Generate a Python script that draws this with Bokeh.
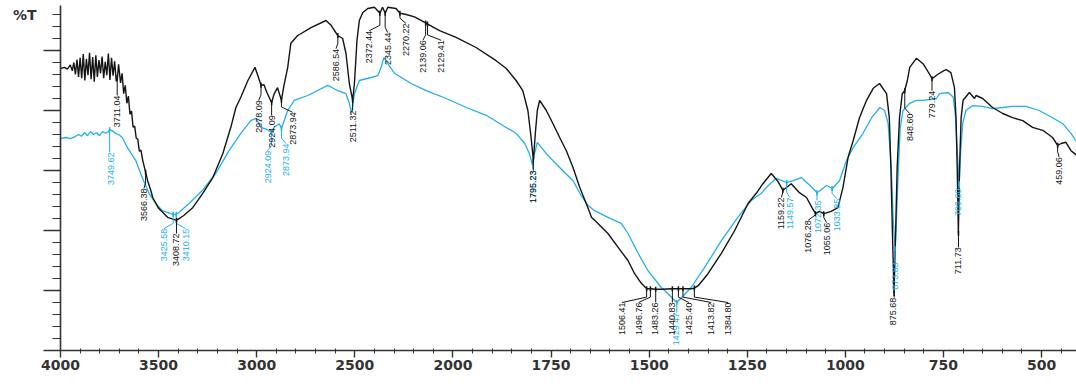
import numpy as np
from bokeh.plotting import figure
from bokeh.models import (ColumnDataSource, Range1d, FixedTicker, CustomJSTransform,
                          Label, CustomJSTickFormatter)
from bokeh.transform import transform
from bokeh.embed import file_html
from bokeh.resources import INLINE
from bokeh.core.properties import value

# ---------------- data: (wavenumber 1/cm, %T) ----------------
black_spectrum = [
    (4000, 47.0), (3980, 47.2), (3965, 46.9), (3950, 47.6), (3940, 46.6), (3932, 48.0), (3924, 46.0),
    (3916, 48.5), (3908, 45.6), (3900, 48.8), (3892, 45.4), (3884, 49.4), (3876, 45.0), (3868, 48.6),
    (3860, 45.9), (3852, 49.6), (3844, 45.2), (3836, 48.9), (3828, 44.8), (3820, 49.2), (3812, 45.6),
    (3804, 48.4), (3796, 46.2), (3788, 49.0), (3780, 45.4), (3772, 48.1), (3764, 45.9), (3756, 49.5),
    (3748, 45.1), (3740, 48.8), (3732, 45.8), (3724, 48.2), (3716, 44.9), (3711, 45.0), (3704, 47.7),
    (3694, 44.6), (3686, 46.2), (3678, 42.8), (3670, 44.2), (3662, 41.2), (3654, 42.4), (3646, 39.4),
    (3638, 39.9), (3630, 37.2), (3622, 37.4), (3614, 35.4), (3606, 35.2), (3598, 33.2), (3590, 33.4),
    (3581, 31.7), (3566, 29.7), (3556, 28.3), (3540, 26.7), (3530, 25.5), (3500, 23.7), (3454, 22.2),
    (3409, 21.7), (3372, 22.5), (3326, 23.8), (3275, 26.2), (3224, 28.8), (3173, 32.8), (3132, 37.2),
    (3106, 40.5), (3081, 42.2), (3045, 45.0), (3009, 47.2), (2994, 45.8), (2978, 44.2), (2963, 44.3),
    (2948, 43.0), (2924, 41.3), (2912, 42.7), (2894, 43.8), (2874, 41.7), (2861, 44.2), (2842, 47.2),
    (2826, 51.2), (2791, 52.5), (2723, 53.8), (2647, 55.0), (2621, 54.2), (2587, 52.5), (2562, 52.0),
    (2545, 49.5), (2528, 44.5), (2511, 41.7), (2502, 44.5), (2489, 51.7), (2477, 55.0), (2460, 56.3),
    (2434, 57.0), (2400, 57.2), (2372, 56.2), (2359, 57.2), (2345, 56.2), (2332, 57.2), (2290, 57.0),
    (2270, 56.2), (2238, 56.0), (2196, 55.6), (2139, 54.6), (2129, 54.4), (2068, 53.3), (1992, 52.2),
    (1941, 50.5), (1890, 48.3), (1864, 47.0), (1839, 45.0), (1822, 43.3), (1809, 40.0), (1802, 36.2),
    (1795, 31.7), (1790, 36.2), (1785, 40.0), (1779, 41.7), (1762, 40.0), (1745, 37.8), (1728, 35.5),
    (1711, 33.3), (1694, 30.5), (1677, 27.2), (1656, 23.8), (1647, 22.2), (1631, 21.2), (1605, 19.5),
    (1579, 17.2), (1554, 15.0), (1537, 12.8), (1520, 11.2), (1506, 10.3), (1497, 10.3), (1483, 10.2),
    (1469, 10.2), (1441, 10.3), (1425, 10.3), (1414, 10.3), (1393, 10.3), (1385, 10.4), (1375, 10.8),
    (1350, 12.8), (1316, 16.2), (1282, 20.0), (1248, 24.5), (1227, 26.2), (1210, 27.8), (1189, 29.5),
    (1173, 28.3), (1159, 26.7), (1138, 27.8), (1117, 26.3), (1099, 25.5), (1085, 23.8), (1076, 22.8),
    (1066, 23.2), (1055, 22.8), (1036, 23.2), (1019, 23.8), (1006, 27.2), (993, 32.2), (980, 35.0),
    (964, 38.8), (946, 41.7), (929, 43.7), (913, 44.5), (895, 42.8), (888, 38.8), (884, 30.5),
    (880, 19.5), (876, 9.5), (872, 19.5), (868, 30.5), (862, 38.8), (855, 42.8), (849, 43.3),
    (842, 45.0), (836, 47.2), (819, 48.7), (802, 47.8), (785, 46.0), (779, 45.3), (765, 46.0),
    (750, 46.6), (743, 46.8), (731, 46.3), (722, 43.8), (718, 38.8), (715, 30.5), (712, 19.5),
    (709, 30.5), (705, 38.8), (700, 41.7), (684, 43.0), (671, 42.0), (667, 42.5), (650, 42.0),
    (625, 40.5), (599, 39.5), (574, 38.8), (548, 38.3), (523, 37.2), (497, 36.7), (472, 35.5),
    (459, 34.2), (450, 34.5), (438, 34.7), (425, 33.3), (410, 32.5),
]

blue_spectrum = [
    (4000, 35.3), (3974, 35.5), (3949, 35.3), (3923, 35.7), (3908, 36.0), (3893, 35.7), (3877, 36.3),
    (3862, 35.8), (3847, 36.5), (3832, 36.0), (3816, 36.3), (3801, 35.8), (3786, 36.5), (3770, 36.2),
    (3755, 36.5), (3750, 36.8), (3736, 36.6), (3719, 36.2), (3704, 36.0), (3685, 35.5), (3659, 33.8),
    (3617, 31.7), (3583, 28.8), (3549, 26.2), (3515, 24.5), (3481, 23.3), (3438, 22.8), (3425, 22.7),
    (3410, 22.7), (3396, 23.0), (3345, 24.5), (3276, 26.7), (3209, 29.5), (3141, 33.3), (3081, 36.2),
    (3030, 38.3), (3004, 38.7), (2979, 37.2), (2945, 36.8), (2924, 36.3), (2911, 37.2), (2885, 37.8),
    (2874, 37.0), (2842, 40.0), (2809, 41.7), (2740, 42.5), (2638, 44.2), (2587, 43.3), (2545, 42.8),
    (2528, 41.2), (2516, 39.5), (2502, 42.8), (2477, 45.0), (2417, 45.5), (2383, 45.8), (2366, 47.2),
    (2352, 48.8), (2332, 47.8), (2298, 46.2), (2213, 44.5), (2136, 43.3), (2034, 42.0), (1966, 40.5),
    (1915, 39.2), (1873, 37.5), (1839, 36.2), (1817, 34.5), (1805, 32.8), (1797, 30.8), (1792, 32.8),
    (1785, 34.7), (1762, 32.8), (1728, 30.5), (1694, 28.3), (1673, 25.8), (1656, 24.2), (1639, 23.3),
    (1605, 22.2), (1571, 21.2), (1554, 19.5), (1528, 16.2), (1503, 13.3), (1469, 10.5), (1448, 9.2),
    (1430, 8.0), (1418, 8.8), (1393, 10.5), (1359, 13.8), (1316, 18.3), (1274, 22.2), (1240, 25.0),
    (1214, 26.2), (1201, 27.2), (1176, 28.7), (1150, 28.0), (1133, 28.3), (1112, 28.8), (1090, 27.5),
    (1072, 26.3), (1048, 27.5), (1033, 27.0), (1015, 28.3), (997, 31.7), (980, 33.8), (955, 36.2),
    (933, 38.8), (912, 40.5), (900, 40.0), (891, 37.8), (883, 30.5), (878, 21.7), (873, 17.0),
    (868, 25.0), (864, 31.7), (860, 37.2), (853, 40.0), (836, 41.2), (819, 41.7), (802, 41.7),
    (768, 42.0), (760, 42.8), (738, 43.0), (725, 42.2), (719, 38.8), (715, 33.3), (710, 27.8),
    (706, 33.3), (701, 37.8), (693, 40.0), (676, 40.8), (650, 40.7), (625, 40.3), (599, 40.5),
    (574, 40.7), (540, 40.7), (506, 40.0), (472, 38.8), (446, 37.8), (425, 36.2), (410, 34.7),
]

# peak labels: text (= wavenumber) and %T of the marked point
black_peak_text = ["3711.04", "3566.38", "3408.72", "2978.09", "2924.09", "2873.94", "2586.54",
                   "2511.32", "2372.44", "2345.44", "2270.22", "2139.06", "2129.41", "1795.23",
                   "1506.41", "1496.76", "1483.26", "1440.83", "1425.40", "1413.82", "1384.80",
                   "1159.22", "1076.28", "1055.06", "875.68", "848.60", "779.24", "711.73", "459.06"]
black_peak_T = [45.5, 29.7, 21.7, 44.2, 41.3, 41.7, 52.5, 41.7, 56.2, 56.2, 56.2, 54.6, 54.4, 31.7,
                10.3, 10.3, 10.2, 10.3, 10.3, 10.3, 10.4, 26.7, 22.8, 22.8, 9.5, 43.3, 45.3, 19.5, 34.2]

blue_peak_text = ["3749.62", "3425.58", "3410.15", "2924.09", "2873.94", "1795.23", "1429.47",
                  "1149.57", "1072.35", "1033.85", "873.83", "709.60"]
blue_peak_T = [36.8, 22.7, 22.7, 36.3, 37.0, 30.8, 8.0, 28.0, 26.3, 27.0, 17.0, 27.8]

tick_labels = [4000, 3500, 3000, 2500, 2000, 1750, 1500, 1250, 1000, 750, 500]

# ---------------- layout of the labels (where the text sits) ----------------
black_label_x = [3711, 3575, 3409, 2990, 2924, 2817, 2596, 2511, 2426, 2333, 2239, 2153, 2060, 1795,
                 1569, 1527, 1484, 1442, 1399, 1342, 1299, 1163, 1095, 1048, 878, 836, 780, 714, 455]
black_label_top = [42.5, 27.0, 19.5, 41.7, 39.2, 39.7, 50.3, 40.0, 53.3, 53.0, 54.5, 51.7, 51.7, 30.0,
                   8.0, 8.0, 8.0, 8.0, 8.0, 8.0, 8.0, 25.5, 21.7, 21.3, 8.8, 39.5, 43.3, 17.2, 32.2]
blue_label_x = [3745, 3473, 3362, 2945, 2851, 1795, 1431, 1142, 1070, 1022, 873, 712]
blue_label_top = [33.0, 20.3, 20.3, 33.3, 34.5, 30.0, 6.3, 25.5, 25.0, 25.3, 14.7, 27.0]

BLACK = "#141414"
BLUE = "#22b1ea"
LABEL_FONT = "Liberation Sans"

# split-scale wavenumber axis (x2 expansion below 2000 1/cm)
split = CustomJSTransform(
    func="return x >= 2000 ? 2000 + (x - 2000) / 2 : x;",
    v_func="""
        const out = new Float64Array(xs.length);
        for (let i = 0; i < xs.length; i++) {
            const x = xs[i];
            out[i] = x >= 2000 ? 2000 + (x - 2000) / 2 : x;
        }
        return out;""")


def axis_pos(w):
    return 2000 + (w - 2000) / 2 if w >= 2000 else w


p = figure(width=1076, height=387, output_backend="svg", toolbar_location=None,
           x_range=Range1d(3000, 411), y_range=Range1d(0, 57.5),
           min_border_left=60, min_border_right=0, min_border_top=5, min_border_bottom=37)
p.outline_line_color = None
p.xgrid.visible = False
p.ygrid.visible = False
p.background_fill_color = "white"

bw, bt = zip(*black_spectrum)
uw, ut = zip(*blue_spectrum)
src_b = ColumnDataSource(dict(w=list(bw), t=list(bt)))
src_u = ColumnDataSource(dict(w=list(uw), t=list(ut)))

p.line(x=transform("w", split), y="t", source=src_u, line_color=BLUE, line_width=1.3)
p.line(x=transform("w", split), y="t", source=src_b, line_color=BLACK, line_width=1.4)


def add_labels(texts, peakT, lx, top, color):
    pw = [float(s) for s in texts]
    x0, y0, x1, y1 = [], [], [], []
    for w, t, x, tp in zip(pw, peakT, lx, top):
        bend = tp + 0.9
        if abs(axis_pos(w) - axis_pos(x)) < 3:
            x0 += [w]; y0 += [t]; x1 += [w]; y1 += [tp]
        else:
            x0 += [w, w]; y0 += [t, bend]; x1 += [w, x]; y1 += [bend, tp]
    seg = ColumnDataSource(dict(x0=x0, y0=y0, x1=x1, y1=y1))
    p.segment(x0=transform("x0", split), y0="y0", x1=transform("x1", split), y1="y1",
              source=seg, line_color=color, line_width=1)
    mk = ColumnDataSource(dict(w=pw, t=peakT))
    p.scatter(x=transform("w", split), y="t", source=mk, marker="dash", angle=np.pi / 2,
              size=5, line_color=color, line_width=1.5)
    txt = ColumnDataSource(dict(x=lx, y=top, s=texts))
    p.text(x=transform("x", split), y="y", text="s", source=txt, angle=np.pi / 2,
           text_align="right", text_baseline="middle", text_font=value(LABEL_FONT),
           text_font_size="9px", text_color=color)


add_labels(blue_peak_text, blue_peak_T, blue_label_x, blue_label_top, BLUE)
add_labels(black_peak_text, black_peak_T, black_label_x, black_label_top, BLACK)

# axes
tick_pos = [axis_pos(v) for v in tick_labels]
minor = []
for a, b in zip(tick_pos[:-1], tick_pos[1:]):
    minor += list(np.linspace(a, b, 6)[1:-1])
minor += [tick_pos[-1] - 50]
p.xaxis.ticker = FixedTicker(ticks=tick_pos, minor_ticks=minor)
p.xaxis.major_label_overrides = {pos: str(v) for pos, v in zip(tick_pos, tick_labels)}
p.xaxis.axis_line_color = "#333333"
p.xaxis.axis_line_width = 1.6
p.xaxis.major_tick_line_color = "#333333"
p.xaxis.major_tick_line_width = 1.4
p.xaxis.major_tick_out = 7
p.xaxis.major_tick_in = 0
p.xaxis.minor_tick_line_color = "#333333"
p.xaxis.minor_tick_out = 3
p.xaxis.minor_tick_in = 2
p.xaxis.major_label_standoff = 2
p.xaxis.major_label_text_font = "DejaVu Sans"
p.xaxis.major_label_text_font_size = "14px"
p.xaxis.major_label_text_font_style = "bold"
p.xaxis.major_label_text_color = "#333333"

p.yaxis.ticker = FixedTicker(ticks=[0, 10, 20, 30, 40, 50],
                             minor_ticks=[v for v in range(2, 57, 2) if v % 10])
p.yaxis.formatter = CustomJSTickFormatter(code="return '';")
p.yaxis.axis_line_color = "#333333"
p.yaxis.axis_line_width = 1.6
p.yaxis.major_tick_line_color = "#333333"
p.yaxis.major_tick_line_width = 1.4
p.yaxis.major_tick_out = 17
p.yaxis.major_tick_in = 0
p.yaxis.minor_tick_line_color = "#333333"
p.yaxis.minor_tick_out = 8
p.yaxis.minor_tick_in = 0
p.yaxis.major_label_standoff = 0
# "%T" sits on the second line so that it falls just below the top of the axis
p.yaxis.axis_label = "\n%T"
p.yaxis.axis_label_orientation = "horizontal"
p.yaxis.axis_label_align = "end"
p.yaxis.axis_label_standoff = 7
p.yaxis.axis_label_text_font = "DejaVu Sans"
p.yaxis.axis_label_text_font_size = "14px"
p.yaxis.axis_label_text_font_style = "bold"
p.yaxis.axis_label_text_color = "#333333"

p.add_layout(Label(x=416, y=-3.1, text="1/cm", text_align="right", text_baseline="top",
                   text_font="DejaVu Sans", text_font_size="14px", text_font_style="bold",
                   text_color="#333333"))

open("out.html", "w").write(file_html(p, INLINE))
